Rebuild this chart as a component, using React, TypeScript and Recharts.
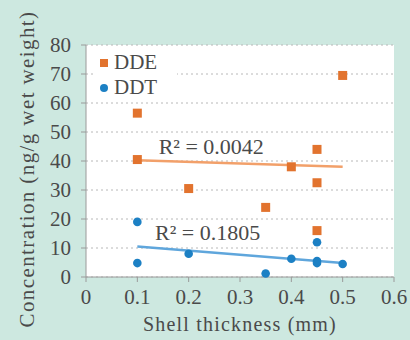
import React from "react";
import { ScatterChart, Scatter, XAxis, YAxis, CartesianGrid, ReferenceDot, Label } from "recharts";

const xTicks = [0, 0.1, 0.2, 0.3, 0.4, 0.5, 0.6];
const yTicks = [0, 10, 20, 30, 40, 50, 60, 70, 80];

const ddeThickness = [0.1, 0.1, 0.2, 0.35, 0.4, 0.45, 0.45, 0.45, 0.5];
const ddeConc = [56.5, 40.5, 30.5, 24, 38, 44, 32.5, 16, 69.5];
const ddtThickness = [0.1, 0.1, 0.2, 0.35, 0.4, 0.45, 0.45, 0.45, 0.5];
const ddtConc = [19, 4.8, 8, 1.2, 6.3, 12, 5.5, 4.8, 4.5];

// trendline end points
const trendX = [0.1, 0.5];
const ddeTrend = [40.3, 38];
const ddtTrend = [10.5, 4.8];

const toPoints = (xs: number[], ys: number[]) => xs.map((x, i) => ({ x, y: ys[i] }));

const ORANGE = "#e2732e";
const BLUE = "#1c80c4";
const FONT = "Liberation Serif";
const TEXT = "#4a4a4a";

const SquareDot = (props: any) => (
  <rect x={props.cx - 4.5} y={props.cy - 4.5} width={9} height={9} fill={ORANGE} />
);
const CircleDot = (props: any) => <circle cx={props.cx} cy={props.cy} r={4.3} fill={BLUE} />;
const NoDot = () => <g />;

const YTitle = (props: any) => {
  const vb = props.viewBox || {};
  const cy = (vb.y || 0) + (vb.height || 0) / 2 + 8;
  const cx = 27;
  return (
    <text
      x={cx}
      y={cy}
      transform={`rotate(-90 ${cx} ${cy})`}
      textAnchor="middle"
      dominantBaseline="central"
      fill={TEXT}
      fontSize={21}
      fontFamily={FONT}
      letterSpacing={1.4}
    >
      Concentration (ng/g wet weight)
    </text>
  );
};

// legend drawn as an overlay, so it doesn't eat into the plot area
const LegendBox = () => (
  <div
    style={{
      position: "absolute",
      left: 94,
      top: 50,
      background: "#fff",
      fontFamily: FONT,
      fontSize: 21,
      color: TEXT,
      lineHeight: "25px",
      padding: "0 20px 0 6px",
    }}
  >
    <div style={{ display: "flex", alignItems: "center" }}>
      <span style={{ display: "inline-block", width: 8, height: 8, background: ORANGE, marginRight: 6 }} />
      DDE
    </div>
    <div style={{ display: "flex", alignItems: "center" }}>
      <span style={{ display: "inline-block", width: 8, height: 8, borderRadius: 4, background: BLUE, marginRight: 6 }} />
      DDT
    </div>
  </div>
);

export default function App() {
  const tick = { fill: TEXT, fontSize: 21, fontFamily: FONT };
  return (
    <div style={{ position: "fixed", left: 0, top: 0, width: 410, height: 340, background: "#cde8e0" }}>
      <ScatterChart width={410} height={340} margin={{ top: 45, right: 16, bottom: 33, left: 36 }}>
        <CartesianGrid horizontal vertical={false} fill="#ffffff" stroke="#b8b8b8" strokeDasharray="2 3" />
        <XAxis
          type="number"
          dataKey="x"
          domain={[0, 0.6]}
          ticks={xTicks}
          interval={0}
          height={30}
          tick={tick}
          tickSize={5}
          tickMargin={7}
          stroke="#9a9a9a"
        >
          <Label value="Shell thickness (mm)" position="bottom" offset={10} style={{ fill: TEXT, fontSize: 20, fontFamily: FONT, letterSpacing: 1.2 }} />
        </XAxis>
        <YAxis
          type="number"
          dataKey="y"
          domain={[0, 80]}
          ticks={yTicks}
          interval={0}
          width={50}
          tick={tick}
          tickSize={5}
          tickMargin={10}
          stroke="#9a9a9a"
        >
          <Label content={<YTitle />} />
        </YAxis>
        <Scatter data={toPoints(trendX, ddeTrend)} line={{ stroke: "#f2a06a", strokeWidth: 2.5 }} shape={NoDot} isAnimationActive={false} legendType="none" />
        <Scatter data={toPoints(trendX, ddtTrend)} line={{ stroke: "#5fa6dc", strokeWidth: 2.5 }} shape={NoDot} isAnimationActive={false} legendType="none" />
        <Scatter name="DDE" data={toPoints(ddeThickness, ddeConc)} shape={SquareDot} isAnimationActive={false} />
        <Scatter name="DDT" data={toPoints(ddtThickness, ddtConc)} shape={CircleDot} isAnimationActive={false} />
        <ReferenceDot x={0.244} y={45} r={0} label={{ value: "R² = 0.0042", position: "center", fill: TEXT, fontSize: 22, fontFamily: FONT }} />
        <ReferenceDot x={0.237} y={15.5} r={0} label={{ value: "R² = 0.1805", position: "center", fill: TEXT, fontSize: 22, fontFamily: FONT }} />
      </ScatterChart>
      <LegendBox />
    </div>
  );
}
